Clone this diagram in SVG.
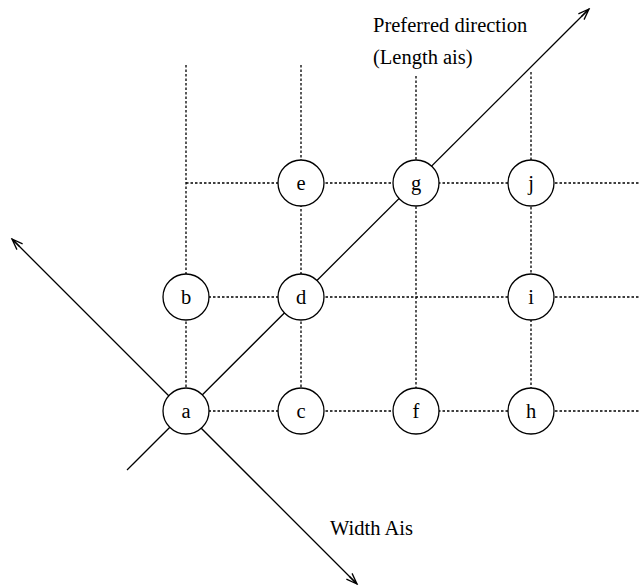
<svg xmlns="http://www.w3.org/2000/svg" width="640" height="586" viewBox="0 0 640 586">
<style>
.grid{stroke:#000;stroke-width:1.3;stroke-dasharray:2.5 2;fill:none}
.axis{stroke:#000;stroke-width:1.3;fill:none}
.node circle{fill:#fff;stroke:#000;stroke-width:1.3}
text{font-family:"Liberation Serif","Times New Roman",serif;font-size:20.5px;fill:#000}
.node text{text-anchor:middle}
</style>
<defs>
<marker id="arr" markerWidth="14" markerHeight="12" viewBox="-12 -6 14 12" refX="0" refY="0" orient="auto-start-reverse" markerUnits="userSpaceOnUse">
<path d="M-11,-4 L0,0 L-11,4 M-11,0 L0,0" stroke="#000" stroke-width="1.3" fill="none"/>
</marker>
</defs>
<rect width="640" height="586" fill="#fff"/>
<g id="connectors">
<line class="grid" x1="186" y1="65" x2="186" y2="411"/>
<line class="grid" x1="301" y1="65" x2="301" y2="411"/>
<line class="grid" x1="416" y1="76" x2="416" y2="411"/>
<line class="grid" x1="531" y1="72" x2="531" y2="411"/>
<line class="grid" x1="186" y1="183" x2="640" y2="183"/>
<line class="grid" x1="186" y1="297" x2="640" y2="297"/>
<line class="grid" x1="186" y1="411" x2="640" y2="411"/>
<line id="length-axis" class="axis" x1="127" y1="470" x2="589" y2="9" marker-end="url(#arr)"/>
<line id="width-axis" class="axis" x1="12" y1="239" x2="357" y2="584" marker-start="url(#arr)" marker-end="url(#arr)"/>
</g>
<g id="node-a" class="node"><circle cx="186" cy="411" r="23"/><text x="186" y="418">a</text></g>
<g id="node-b" class="node"><circle cx="186" cy="297" r="23"/><text x="186" y="304">b</text></g>
<g id="node-c" class="node"><circle cx="301" cy="411" r="23"/><text x="301" y="418">c</text></g>
<g id="node-d" class="node"><circle cx="301" cy="297" r="23"/><text x="301" y="304">d</text></g>
<g id="node-e" class="node"><circle cx="301" cy="183" r="23"/><text x="301" y="190">e</text></g>
<g id="node-f" class="node"><circle cx="416" cy="411" r="23"/><text x="416" y="418">f</text></g>
<g id="node-g" class="node"><circle cx="416" cy="183" r="23"/><text x="416" y="190">g</text></g>
<g id="node-h" class="node"><circle cx="531" cy="411" r="23"/><text x="531" y="418">h</text></g>
<g id="node-i" class="node"><circle cx="531" cy="297" r="23"/><text x="531" y="304">i</text></g>
<g id="node-j" class="node"><circle cx="531" cy="183" r="23"/><text x="531" y="190">j</text></g>
<g id="labels">
<text x="373" y="32">Preferred direction</text>
<text x="373" y="64">(Length ais)</text>
<text x="330" y="535">Width Ais</text>
</g>
</svg>
